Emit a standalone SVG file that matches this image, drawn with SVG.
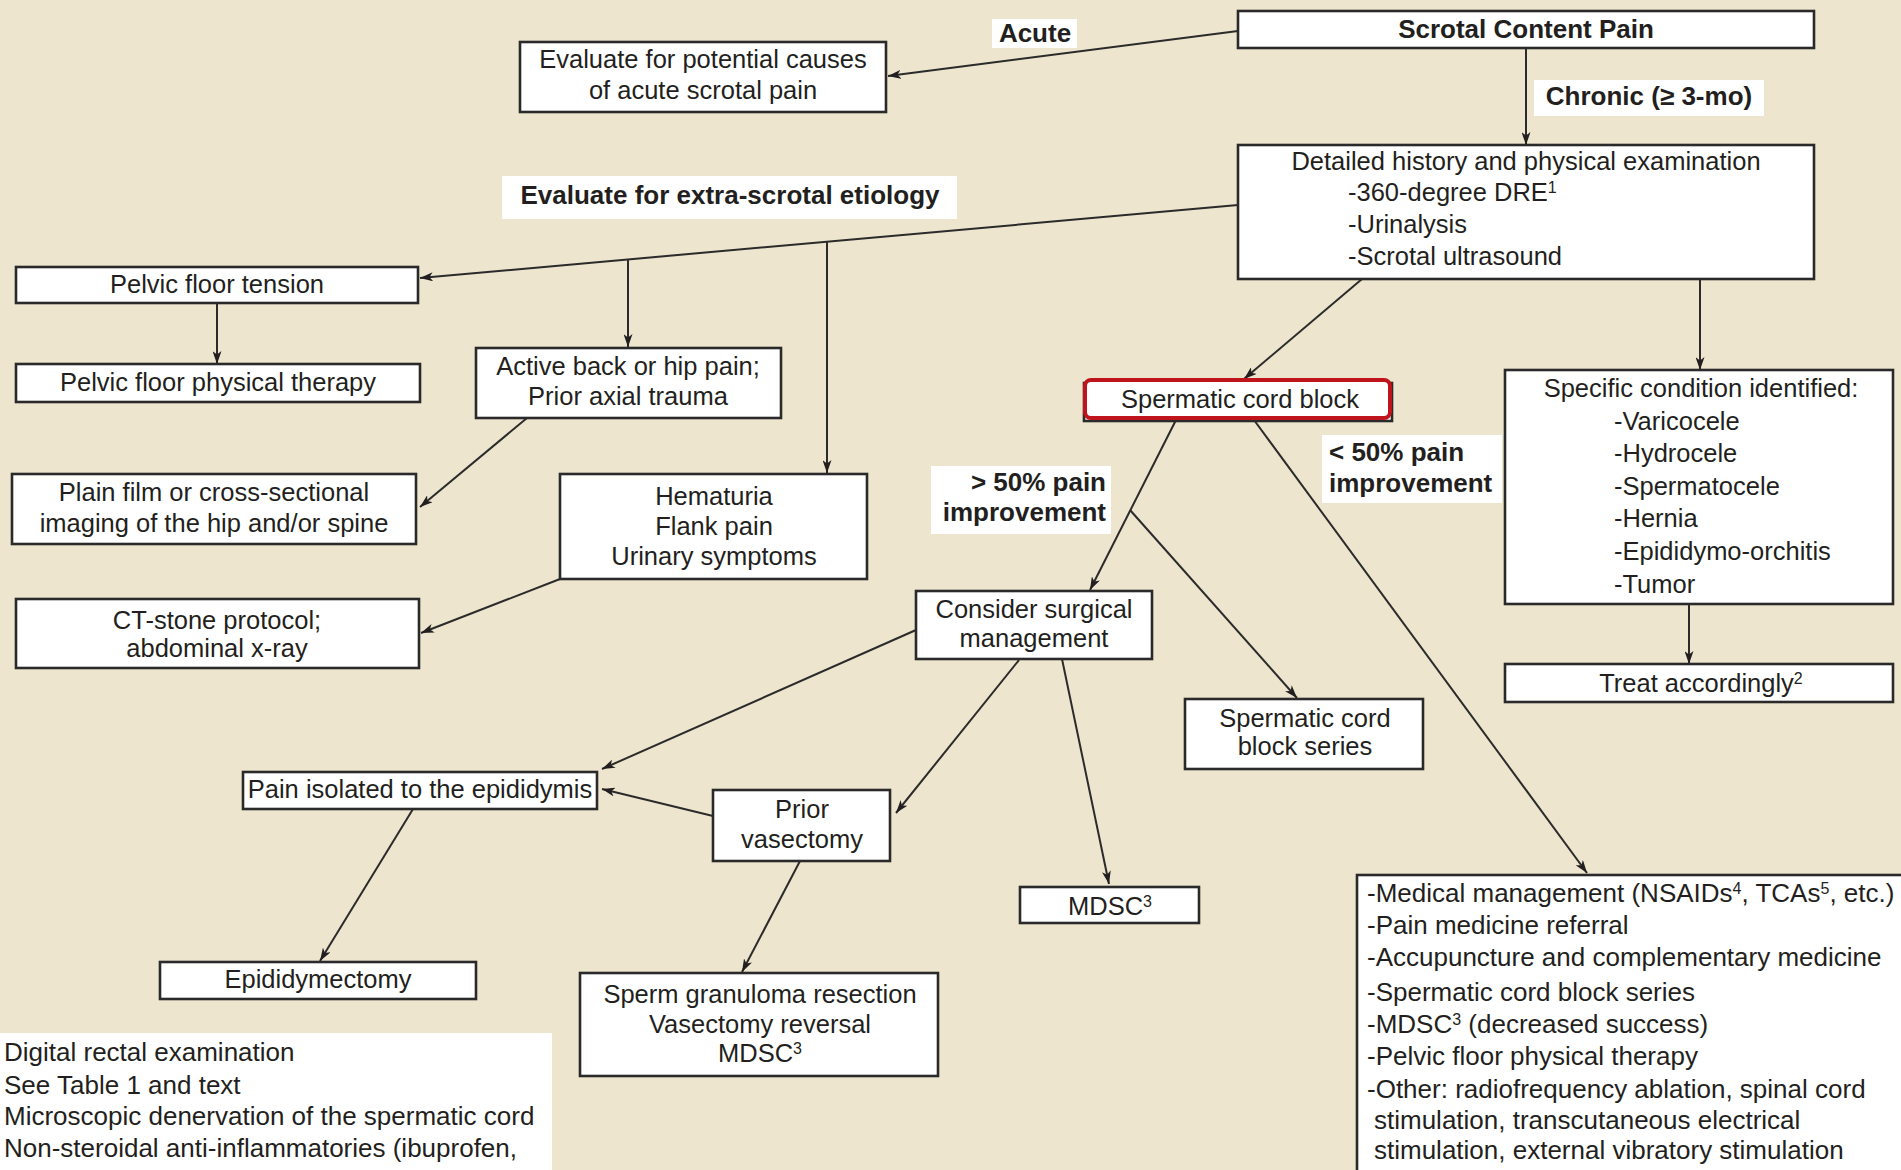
<svg xmlns="http://www.w3.org/2000/svg" width="1901" height="1170" viewBox="0 0 1901 1170">
<style>
.bg{fill:#ede5cd}
.box{fill:#fff;stroke:#2a2a2a;stroke-width:2.6}
.lbl{fill:#fff}
.t{font-family:"Liberation Sans",Arial,sans-serif;font-size:25.5px;fill:#231f20}
.b{font-family:"Liberation Sans",Arial,sans-serif;font-size:26px;font-weight:bold;fill:#231f20}
.f{font-family:"Liberation Sans",Arial,sans-serif;font-size:26px;fill:#231f20}
.m{text-anchor:middle}
.e{text-anchor:end}
.sup{font-size:16px}
.c{fill:none;stroke:#2b2b2b;stroke-width:2}
</style>
<defs>
<marker id="arr" viewBox="0 0 13 9" refX="13" refY="4.5" markerWidth="13" markerHeight="9" markerUnits="userSpaceOnUse" orient="auto">
<path d="M0,0 L13,4.5 L0,9 L3.5,4.5 Z" fill="#231f20"/>
</marker>
</defs>
<rect class="bg" x="0" y="0" width="1901" height="1170"/>

<g id="connectors">
<line class="c" x1="1238" y1="31" x2="888" y2="76" marker-end="url(#arr)"/>
<line class="c" x1="1526" y1="48" x2="1526" y2="145" marker-end="url(#arr)"/>
<line class="c" x1="1238" y1="205" x2="420" y2="278" marker-end="url(#arr)"/>
<line class="c" x1="628" y1="259.5" x2="628" y2="347" marker-end="url(#arr)"/>
<line class="c" x1="827" y1="241.7" x2="827" y2="473" marker-end="url(#arr)"/>
<line class="c" x1="217" y1="303" x2="217" y2="364" marker-end="url(#arr)"/>
<line class="c" x1="527" y1="418" x2="420" y2="507" marker-end="url(#arr)"/>
<line class="c" x1="560" y1="579" x2="421" y2="633" marker-end="url(#arr)"/>
<line class="c" x1="1362" y1="279" x2="1244" y2="379" marker-end="url(#arr)"/>
<line class="c" x1="1700" y1="279" x2="1700" y2="370" marker-end="url(#arr)"/>
<line class="c" x1="1176" y1="420" x2="1090" y2="590" marker-end="url(#arr)"/>
<line class="c" x1="1130" y1="510" x2="1297" y2="698" marker-end="url(#arr)"/>
<line class="c" x1="1254" y1="420" x2="1587" y2="873" marker-end="url(#arr)"/>
<line class="c" x1="1689" y1="604" x2="1689" y2="664" marker-end="url(#arr)"/>
<line class="c" x1="916" y1="630" x2="602" y2="769" marker-end="url(#arr)"/>
<line class="c" x1="1019" y1="660" x2="896" y2="813" marker-end="url(#arr)"/>
<line class="c" x1="1062" y1="659" x2="1109" y2="884" marker-end="url(#arr)"/>
<line class="c" x1="713" y1="816" x2="602" y2="789" marker-end="url(#arr)"/>
<line class="c" x1="413" y1="809" x2="320" y2="961" marker-end="url(#arr)"/>
<line class="c" x1="800" y1="861" x2="742" y2="972" marker-end="url(#arr)"/>
</g>

<g id="scrotal-content-pain">
<rect class="box" x="1238" y="11" width="576" height="37"/>
<text class="b m" x="1526" y="38">Scrotal Content Pain</text>
</g>
<g id="label-acute">
<rect class="lbl" x="992" y="19" width="85" height="29"/>
<text class="b m" x="1035" y="42">Acute</text>
</g>
<g id="acute-causes">
<rect class="box" x="520" y="42" width="366" height="70"/>
<text class="t m" x="703" y="68">Evaluate for potential causes</text>
<text class="t m" x="703" y="99">of acute scrotal pain</text>
</g>
<g id="label-chronic">
<rect class="lbl" x="1534" y="80" width="230" height="36"/>
<text class="b m" x="1649" y="105">Chronic (≥ 3-mo)</text>
</g>
<g id="history-exam">
<rect class="box" x="1238" y="145" width="576" height="134"/>
<text class="t m" x="1526" y="170">Detailed history and physical examination</text>
<text class="t" x="1348" y="201">-360-degree DRE<tspan class="sup" baseline-shift="super">1</tspan></text>
<text class="t" x="1348" y="233">-Urinalysis</text>
<text class="t" x="1348" y="265">-Scrotal ultrasound</text>
</g>
<g id="label-extra-scrotal">
<rect class="lbl" x="502" y="176" width="455" height="43"/>
<text class="b m" x="730" y="204">Evaluate for extra-scrotal etiology</text>
</g>
<g id="pelvic-floor-tension">
<rect class="box" x="16" y="267" width="402" height="36"/>
<text class="t m" x="217" y="293">Pelvic floor tension</text>
</g>
<g id="pelvic-floor-pt">
<rect class="box" x="16" y="364" width="404" height="38"/>
<text class="t m" x="218" y="391">Pelvic floor physical therapy</text>
</g>
<g id="back-hip-pain">
<rect class="box" x="476" y="348" width="305" height="70"/>
<text class="t m" x="628" y="375">Active back or hip pain;</text>
<text class="t m" x="628" y="405">Prior axial trauma</text>
</g>
<g id="hip-spine-imaging">
<rect class="box" x="12" y="474" width="404" height="70"/>
<text class="t m" x="214" y="501">Plain film or cross-sectional</text>
<text class="t m" x="214" y="532">imaging of the hip and/or spine</text>
</g>
<g id="hematuria">
<rect class="box" x="560" y="474" width="307" height="105"/>
<text class="t m" x="714" y="505">Hematuria</text>
<text class="t m" x="714" y="535">Flank pain</text>
<text class="t m" x="714" y="565">Urinary symptoms</text>
</g>
<g id="ct-stone">
<rect class="box" x="16" y="599" width="403" height="69"/>
<text class="t m" x="217" y="629">CT-stone protocol;</text>
<text class="t m" x="217" y="657">abdominal x-ray</text>
</g>
<g id="spermatic-cord-block">
<rect x="1084" y="383" width="308" height="38" fill="#fff" stroke="#2a2a2a" stroke-width="2.6"/>
<rect x="1085" y="380" width="305" height="38" rx="6" fill="#fff" stroke="#c0141c" stroke-width="4"/>
<text class="t m" x="1240" y="408">Spermatic cord block</text>
</g>
<g id="label-gt50">
<rect class="lbl" x="931" y="466" width="180" height="68"/>
<text class="b e" x="1106" y="491">&gt; 50% pain</text>
<text class="b e" x="1106" y="521">improvement</text>
</g>
<g id="label-lt50">
<rect class="lbl" x="1322" y="435" width="180" height="68"/>
<text class="b" x="1329" y="461">&lt; 50% pain</text>
<text class="b" x="1329" y="492">improvement</text>
</g>
<g id="specific-condition">
<rect class="box" x="1505" y="370" width="388" height="234"/>
<text class="t m" x="1701" y="397">Specific condition identified:</text>
<text class="t" x="1614" y="430">-Varicocele</text>
<text class="t" x="1614" y="462">-Hydrocele</text>
<text class="t" x="1614" y="495">-Spermatocele</text>
<text class="t" x="1614" y="527">-Hernia</text>
<text class="t" x="1614" y="560">-Epididymo-orchitis</text>
<text class="t" x="1614" y="593">-Tumor</text>
</g>
<g id="treat-accordingly">
<rect class="box" x="1505" y="664" width="388" height="38"/>
<text class="t m" x="1701" y="692">Treat accordingly<tspan class="sup" baseline-shift="super">2</tspan></text>
</g>
<g id="surgical-management">
<rect class="box" x="916" y="591" width="236" height="68"/>
<text class="t m" x="1034" y="618">Consider surgical</text>
<text class="t m" x="1034" y="647">management</text>
</g>
<g id="cord-block-series">
<rect class="box" x="1185" y="699" width="238" height="70"/>
<text class="t m" x="1305" y="727">Spermatic cord</text>
<text class="t m" x="1305" y="755">block series</text>
</g>
<g id="pain-epididymis">
<rect class="box" x="243" y="772" width="354" height="37"/>
<text class="t m" x="420" y="798">Pain isolated to the epididymis</text>
</g>
<g id="prior-vasectomy">
<rect class="box" x="713" y="790" width="177" height="71"/>
<text class="t m" x="802" y="818">Prior</text>
<text class="t m" x="802" y="848">vasectomy</text>
</g>
<g id="epididymectomy">
<rect class="box" x="160" y="962" width="316" height="37"/>
<text class="t m" x="318" y="988">Epididymectomy</text>
</g>
<g id="granuloma-reversal">
<rect class="box" x="580" y="973" width="358" height="103"/>
<text class="t m" x="760" y="1003">Sperm granuloma resection</text>
<text class="t m" x="760" y="1033">Vasectomy reversal</text>
<text class="t m" x="760" y="1062">MDSC<tspan class="sup" baseline-shift="super">3</tspan></text>
</g>
<g id="mdsc">
<rect class="box" x="1020" y="887" width="179" height="36"/>
<text class="t m" x="1110" y="915">MDSC<tspan class="sup" baseline-shift="super">3</tspan></text>
</g>
<g id="conservative-options">
<rect class="box" x="1357" y="875" width="560" height="320"/>
<text class="f" x="1367" y="902">-Medical management (NSAIDs<tspan class="sup" baseline-shift="super">4</tspan>, TCAs<tspan class="sup" baseline-shift="super">5</tspan>, etc.)</text>
<text class="f" x="1367" y="934">-Pain medicine referral</text>
<text class="f" x="1367" y="966">-Accupuncture and complementary medicine</text>
<text class="f" x="1367" y="1001">-Spermatic cord block series</text>
<text class="f" x="1367" y="1033">-MDSC<tspan class="sup" baseline-shift="super">3</tspan> (decreased success)</text>
<text class="f" x="1367" y="1065">-Pelvic floor physical therapy</text>
<text class="f" x="1367" y="1098">-Other: radiofrequency ablation, spinal cord</text>
<text class="f" x="1374" y="1129">stimulation, transcutaneous electrical</text>
<text class="f" x="1374" y="1159">stimulation, external vibratory stimulation</text>
</g>
<g id="footnotes">
<rect class="lbl" x="0" y="1033" width="552" height="140"/>
<text class="f" x="4" y="1061">Digital rectal examination</text>
<text class="f" x="4" y="1094">See Table 1 and text</text>
<text class="f" x="4" y="1125">Microscopic denervation of the spermatic cord</text>
<text class="f" x="4" y="1157">Non-steroidal anti-inflammatories (ibuprofen,</text>
</g>
</svg>
